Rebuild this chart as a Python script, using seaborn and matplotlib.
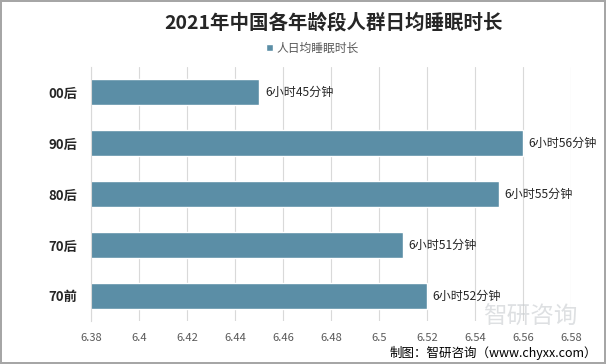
import matplotlib
matplotlib.use("Agg")
import matplotlib.pyplot as plt
import seaborn as sns

# data (hours, shown as h.mm on the axis)
groups = ["00后", "90后", "80后", "70后", "70前"]
sleep = [6.45, 6.56, 6.55, 6.51, 6.52]
sleep_labels = ["6小时45分钟", "6小时56分钟", "6小时55分钟", "6小时51分钟", "6小时52分钟"]
x_ticks = [6.38, 6.40, 6.42, 6.44, 6.46, 6.48, 6.50, 6.52, 6.54, 6.56, 6.58]
x_tick_labels = ["6.38", "6.4", "6.42", "6.44", "6.46", "6.48", "6.5", "6.52", "6.54", "6.56", "6.58"]
series_name = "人日均睡眠时长"

sns.set_style("white")
plt.rcParams["font.family"] = ["Noto Sans CJK SC", "DejaVu Sans"]

bar_color = "#5b8ea6"

fig = plt.figure(figsize=(6.06, 3.64), dpi=100, edgecolor="#a6a6a6", linewidth=1.5)
ax = fig.add_axes([0.150, 0.117, 0.792, 0.700])

sns.barplot(x=sleep, y=groups, orient="h", color=bar_color, saturation=1,
            width=0.5, label=series_name, ax=ax)

ax.set_xlim(6.38, 6.58)
ax.set_xticks(x_ticks)
ax.set_xticklabels(x_tick_labels)
ax.xaxis.grid(True, color="#d9d9d9", linewidth=0.8)
ax.set_axisbelow(True)
for side in ["top", "right", "bottom"]:
    ax.spines[side].set_visible(False)
ax.spines["left"].set_color("#d9d9d9")
ax.tick_params(axis="x", length=0, labelsize=8, labelcolor="#595959", pad=8)
ax.tick_params(axis="y", length=0, labelsize=9.5, pad=10)
for lab in ax.get_yticklabels():
    lab.set_fontweight("bold")
    lab.set_color("#262626")
ax.set_xlabel("")
ax.set_ylabel("")

# value labels at bar ends
for i, (v, txt) in enumerate(zip(sleep, sleep_labels)):
    ax.text(v + 0.0025, i, txt, va="center", ha="left", fontsize=8.7, color="#262626")

fig.text(0.551, 0.937, "2021年中国各年龄段人群日均睡眠时长", ha="center", va="center",
         fontsize=14, fontweight="bold", color="#262626")

ax.legend(loc="center", bbox_to_anchor=(312 / 606, 1 - 48 / 364),
          bbox_transform=fig.transFigure, frameon=False, fontsize=8.5,
          handlelength=0.6, handleheight=0.6, handletextpad=0.3, labelcolor="#595959")

# watermark and source
fig.text(0.875, 0.128, "智研咨询", ha="center", va="center", fontsize=17,
         color="#c8ccd0", alpha=0.6)
fig.text(0.985, 0.03, "制图：智研咨询（www.chyxx.com）", ha="right", va="center",
         fontsize=9, color="#000000")

fig.savefig("out.png", dpi=100)
